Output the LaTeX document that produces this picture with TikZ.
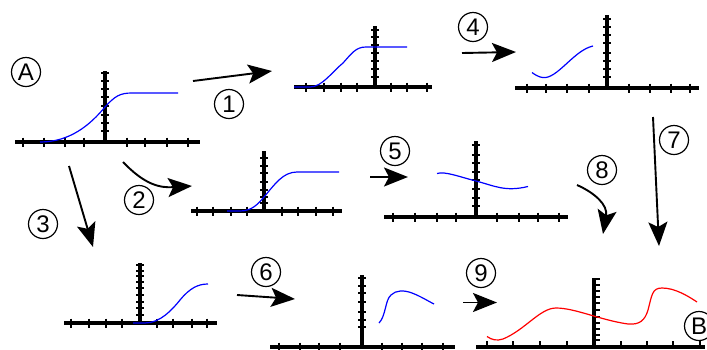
\documentclass[tikz,border=0pt]{standalone}
\usepackage{fontspec}
\setmainfont{Liberation Sans}
\usetikzlibrary{arrows.meta}
\newcommand{\plotaxes}[7]{%
  \draw[axisline] (#1,#3) -- (#2,#3);
  \draw[axisline] (#4,#3) -- (#4,#5);
  \foreach \t in {#6} \draw[tickline] (\t,#3-4.5) -- (\t,#3+4.5);
  \foreach \t in {#7} \draw[tickline] (#4-4,\t) -- (#4+4,\t);
}
\tikzset{
  axisline/.style={line width=3.2pt},
  tickline/.style={line width=2.6pt},
  bluecurve/.style={blue,line width=1.2pt},
  redcurve/.style={red,line width=1.2pt},
  bigarrow/.style={line width=1.9pt,-{Stealth[length=24pt,width=19pt,inset=5pt]}},
  lbl/.style={circle,draw,line width=1.2pt,minimum size=29pt,inner sep=0pt,font=\fontsize{24}{24}\selectfont}
}
\begin{document}
\begin{tikzpicture}[x=1pt,y=-1pt]
\useasboundingbox (0,0) rectangle (707,349);
% Graph A
\plotaxes{15}{200}{142}{105}{71}{23,44,65,84,127,145,167,188}{73,81,89,97,106,115,123,131}
\draw[bluecurve] (40,142) .. controls (70,142) and (90,125) .. (105,107) .. controls (115,96) and (120,93) .. (132,93) -- (178,93);
% Graph 1
\plotaxes{294}{432}{87}{375}{26}{306,324,341,357,391,407,427}{30,37,45,53,61,69,77}
\draw[bluecurve] (294,87) -- (310,87) .. controls (322,87) and (332,72) .. (343,63) .. controls (352,53) and (356,47) .. (366,47) -- (407,47);
% Graph 4
\plotaxes{515}{699}{88}{607}{15}{527,546,567,589,629,650,671,690}{19,27,35,43,53,61,69,77}
\draw[bluecurve] (532,72.5) .. controls (538,77) and (542,78) .. (546,77.5) .. controls (560,75) and (575,50) .. (593,46);
% Graph 2
\plotaxes{191}{342}{211}{264}{151}{197,213,231,247,282,298,316,333}{158,166,173,182,190,197,203}
\draw[bluecurve] (227,211) -- (240,211) .. controls (252,211) and (258,204) .. (264,197) .. controls (275,184) and (283,172) .. (297,172) -- (339,172);
% Graph 5
\plotaxes{384}{568}{217}{476}{141}{393,415,437,456,497,519,538,559}{145,155,163,172,180,189,198,206}
\draw[bluecurve] (437,173.5) .. controls (445,171) and (460,177) .. (476,181) .. controls (495,186) and (505,192) .. (528,186.5);
% Graph 3
\plotaxes{64}{217}{323}{140}{263}{71,89,106,122,157,173,192,207}{265,271,276,282,288,295,302,308,315}
\draw[bluecurve] (133,323) -- (145,323) .. controls (160,323) and (172,310) .. (180,300) .. controls (190,288) and (198,284) .. (208,284);
% Graph 6
\plotaxes{270}{455}{347}{362}{275}{279,300,319,340,382,402,422,443}{278,286,293,302,312,320,327}
\draw[bluecurve] (379,323) .. controls (386,316) and (385,300) .. (391,295) .. controls (396,290) and (404,290) .. (412,293) .. controls (420,296) and (428,301) .. (434,304);
% Graph B
\draw[axisline] (476,347) -- (705,347);
\draw[axisline] (594,347) -- (594,278);
\foreach \t in {487,513,540,567,621,647,673,700} \draw[tickline] (\t,347) -- (\t,341);
\foreach \t in {279,285,291,297,303,310,317,323,329,335,340} \draw[tickline] (594,\t) -- (600,\t);
\draw[redcurve] (487,336.5) .. controls (492,340) and (497,341) .. (503,339) .. controls (525,330) and (540,308) .. (556,308) .. controls (575,308) and (600,320) .. (628,324) .. controls (640,325) and (645,320) .. (648,310) .. controls (652,295) and (652,288) .. (662,288) .. controls (675,288) and (688,296) .. (697,302);
% Arrows
\coordinate (a1s) at (193,81); \coordinate (a1e) at (272,71);
\coordinate (a4s) at (462,53); \coordinate (a4e) at (516,52);
\coordinate (a2s) at (123,162); \coordinate (a2e) at (192,186);
\coordinate (a5s) at (370,177); \coordinate (a5e) at (408,177);
\coordinate (a8s) at (577,185); \coordinate (a8e) at (603,234);
\coordinate (a7s) at (653,117); \coordinate (a7e) at (659,246);
\coordinate (a3s) at (69,166); \coordinate (a3e) at (93,247);
\coordinate (a6s) at (237,295); \coordinate (a6e) at (295,299);
\coordinate (a9s) at (463,302.5); \coordinate (a9e) at (497,302.5);
\draw[bigarrow] (a1s) -- (a1e);
\draw[bigarrow] (a4s) -- (a4e);
\draw[bigarrow] (a2s) .. controls (145,185) and (160,188) .. (a2e);
\draw[bigarrow] (a5s) -- (a5e);
\draw[bigarrow] (a8s) .. controls (595,193) and (608,205) .. (a8e);
\draw[bigarrow] (a7s) -- (a7e);
\draw[bigarrow] (a3s) -- (a3e);
\draw[bigarrow] (a6s) -- (a6e);
\draw[bigarrow] (a9s) -- (a9e);
% Labels
\node[lbl] (lA) at (26,72) {A};
\node[lbl] (l1) at (229,104) {1};
\node[lbl] (l4) at (473,27) {4};
\node[lbl] (l2) at (139,200) {2};
\node[lbl] (l5) at (395,151) {5};
\node[lbl] (l8) at (602,170) {8};
\node[lbl] (l7) at (674,140) {7};
\node[lbl] (l3) at (43,224) {3};
\node[lbl] (l6) at (266,272) {6};
\node[lbl] (l9) at (481,273) {9};
\node[lbl] (lB) at (699,326) {B};
\end{tikzpicture}
\end{document}
